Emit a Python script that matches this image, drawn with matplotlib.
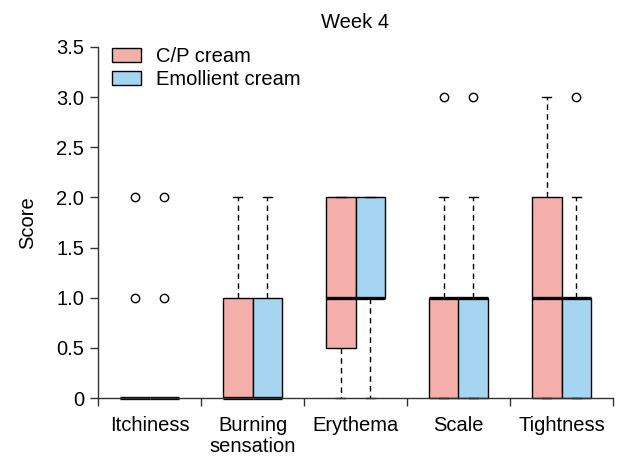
import matplotlib
matplotlib.use('Agg')
import matplotlib.pyplot as plt
from matplotlib.patches import Patch

plt.rcParams['font.family'] = ['Liberation Sans', 'DejaVu Sans']

# Данные
categories = ['Itchiness', 'Burning\nsensation', 'Erythema', 'Scale', 'Tightness']
series = ['C/P cream', 'Emollient cream']
colors = ['#F4AFAB', '#A5D5F1']

# статистика боксов: q1, медиана, q3, усы, выбросы
cp_q1 = [0, 0, 0.5, 0, 0]
cp_med = [0, 0, 1, 1, 1]
cp_q3 = [0, 1, 2, 1, 2]
cp_lo = [0, 0, 0, 0, 0]
cp_hi = [0, 2, 2, 2, 3]
cp_fliers = [[1, 2], [], [], [3], []]

em_q1 = [0, 0, 1, 0, 0]
em_med = [0, 0, 1, 1, 1]
em_q3 = [0, 1, 2, 1, 1]
em_lo = [0, 0, 0, 0, 0]
em_hi = [0, 2, 2, 2, 2]
em_fliers = [[1, 2], [], [], [3], [3]]


def make_stats(q1, med, q3, lo, hi, fl):
    return [dict(q1=a, med=b, q3=c, whislo=d, whishi=e, fliers=f)
            for a, b, c, d, e, f in zip(q1, med, q3, lo, hi, fl)]


stats = [make_stats(cp_q1, cp_med, cp_q3, cp_lo, cp_hi, cp_fliers),
         make_stats(em_q1, em_med, em_q3, em_lo, em_hi, em_fliers)]

fs = 14.5

fig = plt.figure(figsize=(6.17, 4.59), dpi=100)
ax = fig.add_axes([98 / 617, 61 / 459, 515 / 617, 351 / 459])

centers = list(range(1, len(categories) + 1))
offset = 0.145
width = 0.29
for i, st in enumerate(stats):
    pos = [c + (offset if i else -offset) for c in centers]
    art = ax.bxp(st, positions=pos, widths=width, capwidths=0.08,
                 patch_artist=True, manage_ticks=False,
                 boxprops=dict(facecolor=colors[i], edgecolor='black', linewidth=1.0),
                 medianprops=dict(color='black', linewidth=2.4, solid_capstyle='butt'),
                 whiskerprops=dict(color='black', linewidth=1.0, linestyle=(0, (4, 3))),
                 capprops=dict(color='black', linewidth=1.0),
                 flierprops=dict(marker='o', markerfacecolor='none', markeredgecolor='black',
                                 markersize=6, markeredgewidth=1.0))
    for key in art:
        for a in art[key]:
            a.set_clip_on(False)

ax.set_xlim(0.5, len(categories) + 0.5)
ax.set_ylim(0, 3.5)
ax.set_yticks([0, 0.5, 1.0, 1.5, 2.0, 2.5, 3.0, 3.5])
ax.set_yticklabels(['0', '0.5', '1.0', '1.5', '2.0', '2.5', '3.0', '3.5'])
ax.set_xticks([c - 0.5 for c in centers] + [centers[-1] + 0.5])
ax.set_xticklabels([])
ax.set_xticks(centers, minor=True)
ax.set_xticklabels(categories, minor=True, linespacing=1.15)
ax.tick_params(axis='both', which='major', direction='out', length=6, width=1.0,
               labelsize=fs, pad=4, color='#333333')
ax.tick_params(axis='x', which='minor', length=0, labelsize=fs, pad=13)

for s in ['top', 'right']:
    ax.spines[s].set_visible(False)
for s in ['left', 'bottom']:
    ax.spines[s].set_linewidth(1.0)
    ax.spines[s].set_color('#333333')

ax.set_ylabel('Score', fontsize=fs, labelpad=14)
ax.set_title('Week 4', fontsize=fs, pad=14)

handles = [Patch(facecolor=c, edgecolor='black', linewidth=1.0) for c in colors]
ax.legend(handles, series, loc='upper left', bbox_to_anchor=(0.0, 1.04), frameon=False,
          fontsize=fs, handlelength=1.45, handleheight=0.7, handletextpad=0.75,
          labelspacing=0.2, borderaxespad=0.3)

fig.savefig('out.png', dpi=100)
